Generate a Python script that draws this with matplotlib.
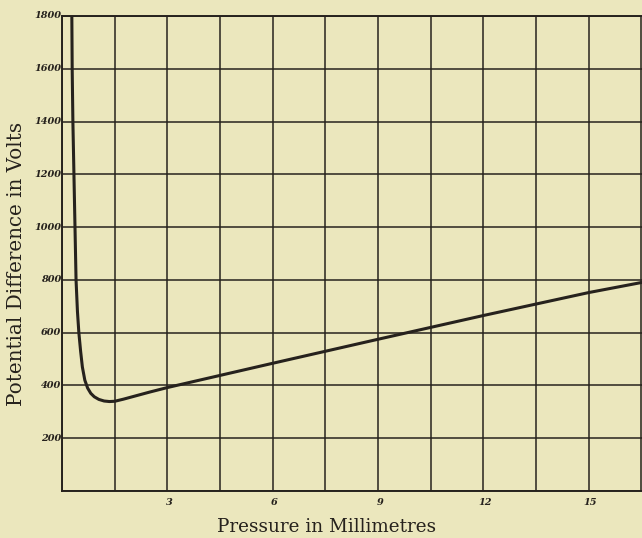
import matplotlib
matplotlib.use("Agg")
import matplotlib.pyplot as plt
import numpy as np

# Data (Pressure in mm, Potential difference in volts)
pressure = [0.28, 0.29, 0.31, 0.34, 0.37, 0.40, 0.44, 0.48, 0.53, 0.58, 0.65,
            0.73, 0.82, 0.92, 1.05, 1.2, 1.35, 1.5, 1.75, 2.0, 2.5, 3.0,
            6.0, 9.0, 12.0, 15.0, 16.5]
voltage = [1800, 1600, 1400, 1200, 1000, 800, 680, 600, 530, 470, 420,
           390, 370, 357, 347, 341, 339, 340, 348, 357, 375, 392,
           484, 575, 665, 752, 790]

x_tick_labels = ["3", "6", "9", "12", "15"]
x_tick_values = [3, 6, 9, 12, 15]
y_tick_values = [200, 400, 600, 800, 1000, 1200, 1400, 1600, 1800]

bg = "#ebe7bd"
ink = "#26221d"

fig = plt.figure(figsize=(6.42, 5.38), dpi=100, facecolor=bg)
ax = fig.add_axes([62/642, 1 - 491/538, 1 - 62/642 + 0.01, (491 - 16)/538])
ax.set_facecolor(bg)

ax.set_xlim(0, 16.7)
ax.set_ylim(0, 1800)

# grid
ax.set_xticks(np.arange(0, 16.6, 1.5))
ax.set_yticks(np.arange(0, 1801, 200))
ax.grid(True, color=ink, linewidth=1.1)
ax.tick_params(length=0, labelbottom=False, labelleft=False)
for s in ax.spines.values():
    s.set_color(ink)
    s.set_linewidth(1.4)

ax.plot(pressure, voltage, color=ink, linewidth=2.2, solid_capstyle="round",
        solid_joinstyle="round", clip_on=True)

for v, lab in zip(x_tick_values, x_tick_labels):
    ax.text(v + 0.05, -25, lab, ha="center", va="top", fontsize=7,
            fontstyle="italic", fontweight="bold", color=ink, family="DejaVu Serif")
for v in y_tick_values:
    ax.text(-0.03, v, str(v), ha="right", va="center", fontsize=7,
            fontstyle="italic", fontweight="bold", color=ink, family="DejaVu Serif")

fig.text(327/642, 1 - 527/538, "Pressure in Millimetres", ha="center", va="center",
         fontsize=13.2, family="DejaVu Serif", color=ink)
fig.text(17/642, 1 - 264/538, "Potential Difference in Volts", ha="center", va="center",
         rotation=90, fontsize=14.3, family="DejaVu Serif", color=ink)

fig.savefig("out.png", dpi=100, facecolor=bg)
